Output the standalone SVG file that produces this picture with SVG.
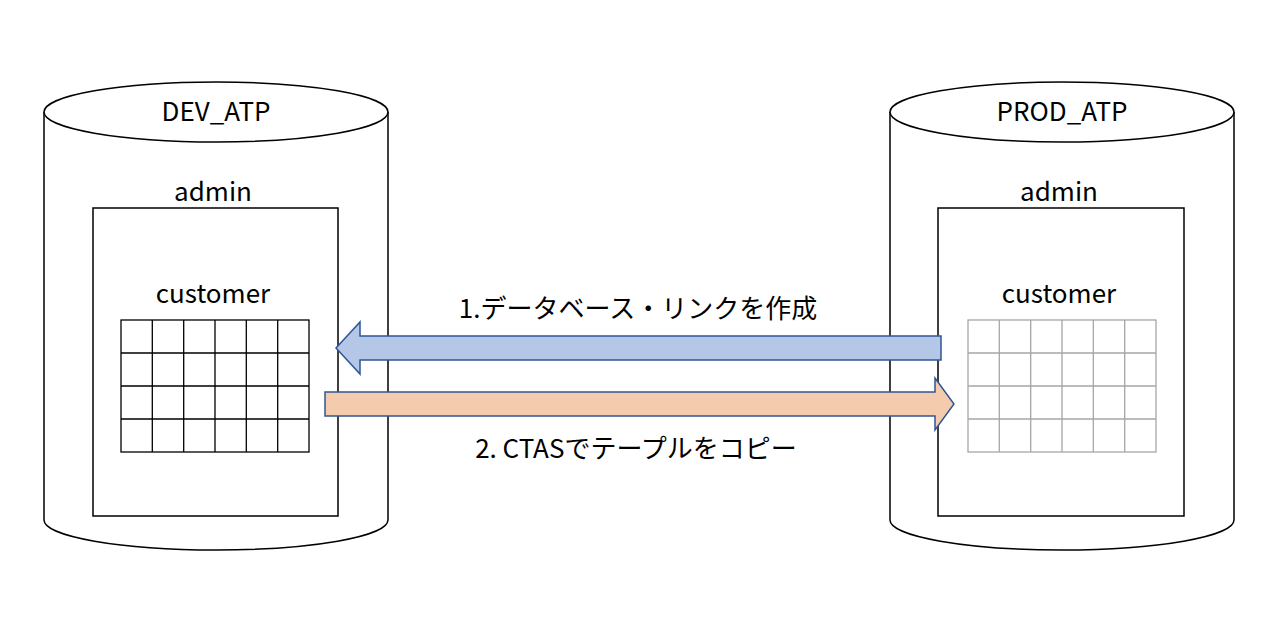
<svg xmlns="http://www.w3.org/2000/svg" width="1280" height="620" viewBox="0 0 1280 620">
<style>
.cyl{fill:#fff;stroke:#000;stroke-width:1.5}
.box{fill:#fff;stroke:#000;stroke-width:1.5}
.t{font-family:"Noto Sans CJK JP","Noto Sans",sans-serif;font-size:26px;fill:#000;text-anchor:middle}
.g1{fill:none;stroke:#000;stroke-width:1.3}
.g2{fill:none;stroke:#a6a6a6;stroke-width:1.3}
</style>
<defs>
<g id="grid"><rect x="0" y="0" width="188" height="132"/><path d="M31.3 0V132M62.7 0V132M94 0V132M125.3 0V132M156.7 0V132M0 33H188M0 66H188M0 99H188"/></g>
</defs>
<g id="dev">
<path class="cyl" d="M44 112V520A172 30 0 0 0 388 520V112"/>
<ellipse class="cyl" cx="216" cy="112" rx="172" ry="30"/>
<text class="t" x="216" y="121">DEV_ATP</text>
<text class="t" x="213" y="201">admin</text>
<rect class="box" x="93" y="208" width="245" height="308"/>
<text class="t" x="213" y="303">customer</text>
<use href="#grid" class="g1" x="121" y="320"/>
</g>
<g id="prod">
<path class="cyl" d="M890 112V520A172 30 0 0 0 1234 520V112"/>
<ellipse class="cyl" cx="1062" cy="112" rx="172" ry="30"/>
<text class="t" x="1062" y="121">PROD_ATP</text>
<text class="t" x="1059" y="201">admin</text>
<rect class="box" x="938" y="208" width="246" height="308"/>
<text class="t" x="1059" y="303">customer</text>
<use href="#grid" class="g2" x="968" y="320"/>
</g>
<g id="connectors">
<path d="M941 336H360V322L336 348L360 374V360H941Z" fill="#b4c7e7" stroke="#2f5597" stroke-width="1.5"/>
<path d="M325 392H935V378L954 404L935 430V416H325Z" fill="#f4cbad" stroke="#2f5597" stroke-width="1.5"/>
<text class="t" x="638" y="318" font-size="25">1.データベース・リンクを作成</text>
<text class="t" x="636" y="458" font-size="25">2. CTASでテープルをコピー</text>
</g>
</svg>
